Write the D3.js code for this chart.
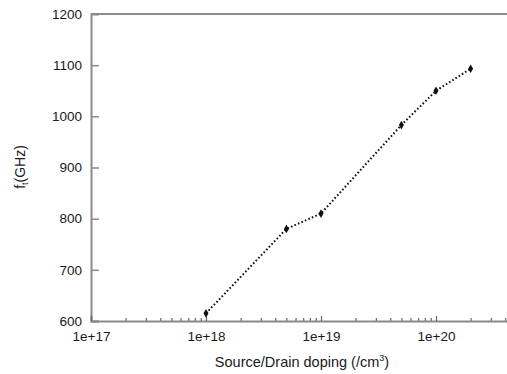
<!DOCTYPE html>
<html>
<head>
<meta charset="utf-8">
<script src="https://cdn.jsdelivr.net/npm/d3@7"></script>
<style>
body { margin: 0; background: #fff; }
text { font-family: "Liberation Sans", Arial, sans-serif; }
</style>
</head>
<body>
<div id="chart"></div>
<script>
const doping = [1e18, 5e18, 1e19, 5e19, 1e20, 2e20];
const ft = [615, 780, 810, 983, 1050, 1093];
const yTicks = [600, 700, 800, 900, 1000, 1100, 1200];
const xTicks = [1e17, 1e18, 1e19, 1e20];

const width = 507, height = 374;
const margin = { top: 14, left: 91, bottom: 53 };

const svg = d3.select("#chart").append("svg")
  .attr("width", width)
  .attr("height", height);

const x = d3.scaleLog()
  .domain([1e17, 5e20])
  .range([margin.left, margin.left + 115 * Math.log10(5e3)]);

const y = d3.scaleLinear()
  .domain([600, 1200])
  .range([height - margin.bottom, margin.top]);

const axisColor = "#8a8a8a";

// y axis, ticks pointing inward
const yAxis = svg.append("g")
  .attr("transform", `translate(${margin.left},0)`)
  .call(d3.axisLeft(y).tickValues(yTicks).tickSize(-8).tickPadding(9).tickFormat(d3.format("d")));
yAxis.select(".domain").attr("stroke", axisColor).attr("stroke-width", 2);
yAxis.selectAll(".tick line").attr("stroke", axisColor).attr("stroke-width", 1.5);
yAxis.selectAll(".tick text").attr("font-size", 13.5).attr("fill", "#1a1a1a");
yAxis.select(".tick:last-of-type line").remove();

// x axis with minor ticks
const minor = [];
for (let e = 17; e <= 20; e++) {
  for (let m = 2; m <= 9; m++) minor.push(m * Math.pow(10, e));
}
const xMinor = svg.append("g")
  .attr("transform", `translate(0,${height - margin.bottom})`)
  .call(d3.axisBottom(x).tickValues(minor.filter(v => v < 5e20)).tickSize(-3).tickFormat(""));
xMinor.select(".domain").remove();
xMinor.selectAll(".tick line").attr("stroke", "#666").attr("stroke-width", 1.2);

const xAxis = svg.append("g")
  .attr("transform", `translate(0,${height - margin.bottom})`)
  .call(d3.axisBottom(x).tickValues(xTicks).tickSize(-5).tickPadding(10)
    .tickFormat(d => "1e+" + Math.round(Math.log10(d))));
xAxis.select(".domain").attr("stroke", axisColor).attr("stroke-width", 2);
xAxis.selectAll(".tick line").attr("stroke", "#666").attr("stroke-width", 1.2);
xAxis.selectAll(".tick text").attr("font-size", 13.5).attr("fill", "#1a1a1a");

// top frame line
svg.append("line")
  .attr("x1", margin.left).attr("x2", x(5e20))
  .attr("y1", y(1200)).attr("y2", y(1200))
  .attr("stroke", axisColor).attr("stroke-width", 2);

// dotted curve
const line = d3.line()
  .x((d, i) => x(doping[i]))
  .y(d => y(d));
svg.append("path")
  .datum(ft)
  .attr("d", line)
  .attr("fill", "none")
  .attr("stroke", "#111")
  .attr("stroke-width", 2)
  .attr("stroke-dasharray", "1.6,2.2");

svg.selectAll(".pt")
  .data(ft)
  .join("path")
  .attr("class", "pt")
  .attr("transform", (d, i) => `translate(${x(doping[i])},${y(d)})`)
  .attr("d", d3.symbol(d3.symbolDiamond, 22))
  .attr("fill", "#111");

// labels
svg.append("text")
  .attr("x", 302).attr("y", 367)
  .attr("text-anchor", "middle")
  .attr("font-size", 14.5)
  .attr("fill", "#1a1a1a")
  .html('Source/Drain doping (/cm<tspan dy="-6" font-size="9">3</tspan><tspan dy="6">)</tspan>');

svg.append("text")
  .attr("transform", "translate(25,167) rotate(-90)")
  .attr("text-anchor", "middle")
  .attr("font-size", 14)
  .attr("fill", "#1a1a1a")
  .html('f<tspan dy="3" font-size="9">t</tspan><tspan dy="-3">(GHz)</tspan>');
</script>
</body>
</html>
